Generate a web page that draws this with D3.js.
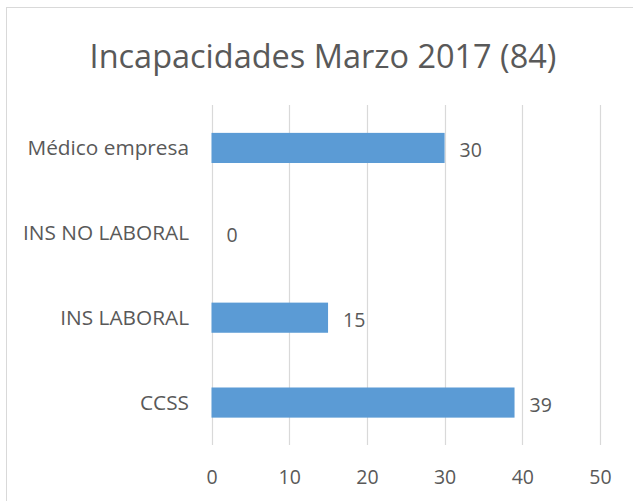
<!DOCTYPE html>
<html><head><meta charset="utf-8">
<script src="https://cdn.jsdelivr.net/npm/d3@7"></script>
<style>body{margin:0;background:#fff}svg{display:block}text{font-family:"Open Sans",sans-serif;fill:#595959}</style>
</head><body>
<svg id="c" width="633" height="501"></svg>
<script>
const categories = ["Médico empresa", "INS NO LABORAL", "INS LABORAL", "CCSS"];
const values = [30, 0, 15, 39];
const xTicks = [0, 10, 20, 30, 40, 50];
const title = "Incapacidades Marzo 2017 (84)";

const svg = d3.select("#c");
svg.append("rect").attr("x", 6.5).attr("y", 7.5).attr("width", 640).attr("height", 510)
  .attr("fill", "#fff").attr("stroke", "#d9d9d9").attr("stroke-width", 1);

const x = d3.scaleLinear().domain([0, 50]).range([211.5, 600]);
const y = d3.scaleBand().domain(categories).range([105.5, 445]).paddingInner(0.645).paddingOuter(0.3225);

const g = svg.append("g");
g.selectAll("line.grid").data(xTicks).join("line").attr("class", "grid")
  .attr("x1", d => Math.round(x(d)) + 0.5).attr("x2", d => Math.round(x(d)) + 0.5)
  .attr("y1", 105).attr("y2", 445).attr("stroke", "#d9d9d9").attr("stroke-width", 1.2);

const data = categories.map((c, i) => ({c, v: values[i]}));
g.selectAll("rect.bar").data(data).join("rect").attr("class", "bar")
  .attr("x", x(0)).attr("y", d => y(d.c)).attr("width", d => x(d.v) - x(0)).attr("height", y.bandwidth())
  .attr("fill", "#5b9bd5");

g.selectAll("text.val").data(data).join("text").attr("class", "val")
  .attr("x", d => x(d.v) + 15).attr("y", d => y(d.c) + y.bandwidth() / 2 + 2)
  .attr("dy", "0.36em").attr("font-size", 19.5).text(d => d.v);

g.selectAll("text.cat").data(data).join("text").attr("class", "cat")
  .attr("x", 189).attr("y", d => y(d.c) + y.bandwidth() / 2)
  .attr("dy", "0.36em").attr("text-anchor", "end").attr("font-size", 20.8).text(d => d.c);

const xAxis = d3.axisBottom(x).tickValues(xTicks).tickSize(0).tickPadding(0);
const ax = svg.append("g").attr("transform", "translate(0,477)").call(xAxis);
ax.select(".domain").remove();
ax.selectAll("text").attr("font-size", 19.5).attr("dy", "0.36em").style("font-family", '"Open Sans",sans-serif').attr("fill", "#595959");

const t = svg.append("text").attr("x", 323).attr("y", 56).attr("dy", "0.36em")
  .attr("text-anchor", "middle").attr("font-size", 28).text(title);
// fit title width to reference
const w = t.node().getComputedTextLength();
t.attr("font-size", 28 * 467 / w);
</script>
</body></html>
